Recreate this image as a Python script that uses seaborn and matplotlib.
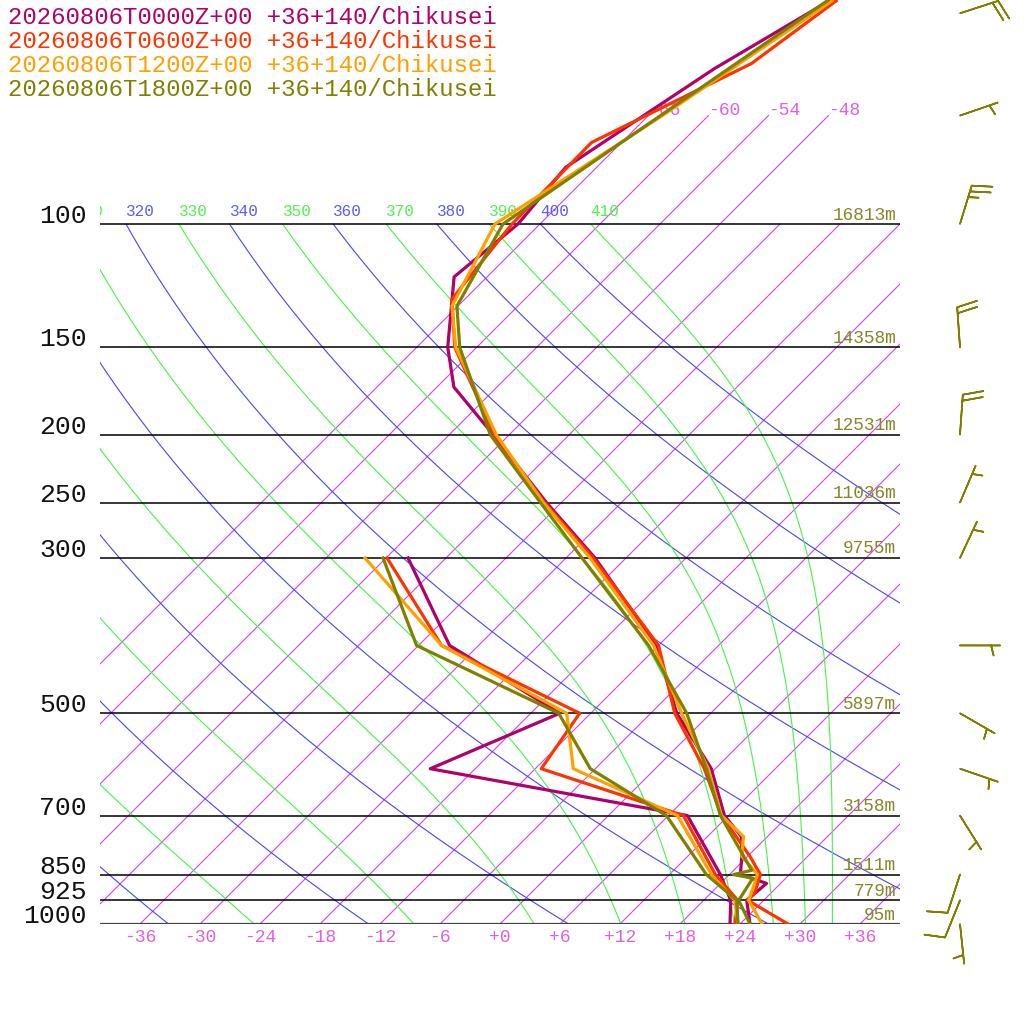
import numpy as np
import pandas as pd
import matplotlib
matplotlib.use("Agg")
import matplotlib.pyplot as plt
import matplotlib.transforms as mtransforms
import seaborn as sns

# --- soundings (hPa, degC) ---
run_labels = [
    "20260806T0000Z+00 +36+140/Chikusei",
    "20260806T0600Z+00 +36+140/Chikusei",
    "20260806T1200Z+00 +36+140/Chikusei",
    "20260806T1800Z+00 +36+140/Chikusei",
]
run_colors = ["#b0006a", "#ff3300", "#ffa000", "#808000"]

t00_p = [1000, 925, 875, 850, 800, 750, 700, 600, 500, 400, 300, 250, 200, 171, 150, 119, 100, 83, 60, 48]
t00_t = [25.0, 22.3, 22.6, 19.1, 17.4, 15.4, 11.6, 5.6, -3.4, -12.2, -27.1, -37.5, -49.6, -58.3, -62.9, -69.3, -68.2, -69.1, -64.1, -59.4]
d00_p = [1000, 925, 850, 700, 600, 500, 400, 300]
d00_t = [23.0, 20.7, 17.1, 7.9, -22.5, -15.1, -32.9, -45.8]

t06_p = [1000, 925, 900, 850, 800, 700, 600, 500, 400, 300, 250, 200, 150, 128, 100, 76.5, 59, 48]
t06_t = [28.8, 22.4, 22.3, 21.1, 18.2, 11.3, 4.9, -3.6, -12.0, -27.3, -37.7, -49.5, -62.2, -67.3, -68.8, -69.0, -60.9, -58.7]
d06_p = [1000, 925, 850, 700, 600, 500, 400, 300]
d06_t = [23.5, 21.4, 16.6, 7.5, -11.4, -13.1, -33.7, -47.9]

t12_p = [1000, 925, 875, 850, 800, 750, 700, 600, 500, 400, 300, 250, 200, 150, 131, 100, 70, 48]
t12_t = [26.2, 22.5, 21.4, 20.8, 17.4, 15.6, 11.3, 5.3, -2.9, -12.5, -27.6, -37.8, -49.3, -62.1, -66.6, -70.5, -64.6, -59.1]
d12_p = [1000, 925, 850, 700, 600, 500, 400, 300]
d12_t = [23.8, 21.1, 16.2, 6.9, -8.2, -14.4, -33.7, -50.1]

t18_p = [1000, 925, 860, 850, 838, 700, 600, 500, 400, 300, 250, 200, 150, 131, 100, 48]
t18_t = [25.0, 21.5, 20.7, 18.4, 19.8, 11.2, 5.1, -2.4, -13.0, -28.4, -38.1, -49.9, -61.7, -66.1, -69.7, -59.6]
d18_p = [1000, 925, 850, 700, 600, 500, 400, 300]
d18_t = [23.8, 21.3, 15.7, 5.8, -6.5, -15.2, -36.2, -48.3]

# isobars and their heights
levels = [1000, 925, 850, 700, 500, 300, 250, 200, 150, 100]
level_heights = ["95m", "779m", "1511m", "3158m", "5897m", "9755m", "11036m", "12531m", "14358m", "16813m"]

# winds of the last run (direction from, knots)
barb_p = [1000, 925, 850, 700, 600, 500, 400, 300, 250, 200, 150, 100, 70, 50]
barb_dir = [174, 202, 198, 148, 109, 120, 90, 25, 23, 4, 356, 17, 71, 72]
barb_spd = [5, 10, 10, 5, 5, 5, 5, 5, 5, 20, 20, 25, 5, 20]

isotherms = list(range(-66, 37, 6))
dry_thetas = list(range(240, 401, 20))
moist_thetas = list(range(250, 411, 20))

SKEW = 70.0
P_TOP = 1000 * 10 ** (-924 / 700)
MONO = ["Liberation Mono", "DejaVu Sans Mono"]


def skew_x(t, p):
    return np.asarray(t, float) + SKEW * np.log10(1000.0 / np.asarray(p, float))


def theta_e_sat(tk, p):
    tc = tk - 273.15
    es = 6.112 * np.exp(17.67 * tc / (tc + 243.5))
    r = np.minimum(622.0 * es / np.maximum(p - es, 1e-3), 2000.0)
    return tk * (1000.0 / p) ** (0.2854 * (1 - 0.00028 * r)) * np.exp(
        (3.376 / tk - 0.00254) * r * (1 + 0.00081 * r))


def moist_t(theta_e, p):
    lo = np.full_like(p, 150.0)
    hi = np.full_like(p, 330.0)
    for _ in range(60):
        mid = 0.5 * (lo + hi)
        above = theta_e_sat(mid, p) > theta_e
        hi = np.where(above, mid, hi)
        lo = np.where(above, lo, mid)
    return 0.5 * (lo + hi) - 273.15


fig = plt.figure(figsize=(10.24, 10.24), dpi=100)
ax = fig.add_axes([100 / 1024, 100 / 1024, 800 / 1024, 924 / 1024])
ax.set_yscale("log")
ax.axis("off")


def shifted(dy):
    return mtransforms.offset_copy(ax.transData, fig=fig, x=0, y=dy, units="dots")


# isotherms
for t in isotherms:
    p_hi = 70 if t <= -48 else 100
    pp = np.array([1000.0, p_hi])
    ax.plot(skew_x([t, t], pp), pp, color="#d244ee", lw=0.8, zorder=1)
    if t <= -48:
        ax.text(skew_x(t, 70), 70, str(t), transform=shifted(5),
                color="#e060e0", fontsize=13, family=MONO, ha="left", va="center")
    if t >= -36:
        ax.text(t, 1000, f"{t:+d}", transform=shifted(-14), color="#e060e0",
                fontsize=13, family=MONO, ha="center", va="center", clip_on=False)


def theta_label(x100, th, col):
    # only lines whose label reaches into the frame get one
    if x100 > -44:
        ax.text(x100, 100, str(th), transform=shifted(12), color=col,
                fontsize=11.5, family=MONO, ha="left", va="center", clip_on=True)


# dry and moist adiabats
pp = np.geomspace(1000, 100, 200)
for th in dry_thetas:
    tt = th * (pp / 1000.0) ** 0.2857 - 273.15
    ax.plot(skew_x(tt, pp), pp, color="#4646ff", lw=0.8, zorder=1)
    theta_label(skew_x(tt[-1], 100), th, "#5a5aff")
for th in moist_thetas:
    tt = moist_t(th, pp)
    ax.plot(skew_x(tt, pp), pp, color="#44f544", lw=0.8, zorder=1)
    theta_label(skew_x(tt[-1], 100), th, "#50f050")

# isobars with pressure and height labels
for lev, hgt in zip(levels, level_heights):
    ax.plot([-40, 40], [lev, lev], color="#444444" if lev == 1000 else "black",
            lw=1.6 if lev == 1000 else 1.1, zorder=2)
    ax.text(-41.3, lev, str(lev), transform=shifted(8), color="#111111", fontsize=19,
            family=MONO, ha="right", va="center", clip_on=False)
    ax.text(39.6, lev, hgt, transform=shifted(9), color="#868628", fontsize=12.8,
            family=MONO, ha="right", va="center", clip_on=False)

# profiles
profiles = [
    (t00_p, t00_t, d00_p, d00_t),
    (t06_p, t06_t, d06_p, d06_t),
    (t12_p, t12_t, d12_p, d12_t),
    (t18_p, t18_t, d18_p, d18_t),
]
for (tp, tt, dp, dt), col in zip(profiles, run_colors):
    for p_arr, t_arr in ((dp, dt), (tp, tt)):
        df = pd.DataFrame({"x": skew_x(t_arr, p_arr), "p": p_arr})
        sns.lineplot(data=df, x="x", y="p", sort=False, estimator=None, color=col,
                     lw=2.3, ax=ax, zorder=5)

# wind barbs
wd = np.deg2rad(barb_dir)
spd = np.asarray(barb_spd, float)
u = -spd * np.sin(wd)
v = -spd * np.cos(wd)
ax.barbs(np.full(len(barb_p), 46.0), barb_p, u, v, length=7.6, color="#808000",
         sizes=dict(spacing=0.15, height=0.5, width=0.25), lw=1.2, clip_on=False, zorder=6)

ax.set_xlim(-40, 40)
ax.set_ylim(1000, P_TOP)
ax.set_xlabel("")
ax.set_ylabel("")

# run legend
for i, (lab, col) in enumerate(zip(run_labels, run_colors)):
    fig.text(8 / 1024, 1 - (17 + 24 * i) / 1024, lab, color=col, fontsize=17.3,
             family=MONO, ha="left", va="center")

fig.savefig("out.png", dpi=100, facecolor="white")
